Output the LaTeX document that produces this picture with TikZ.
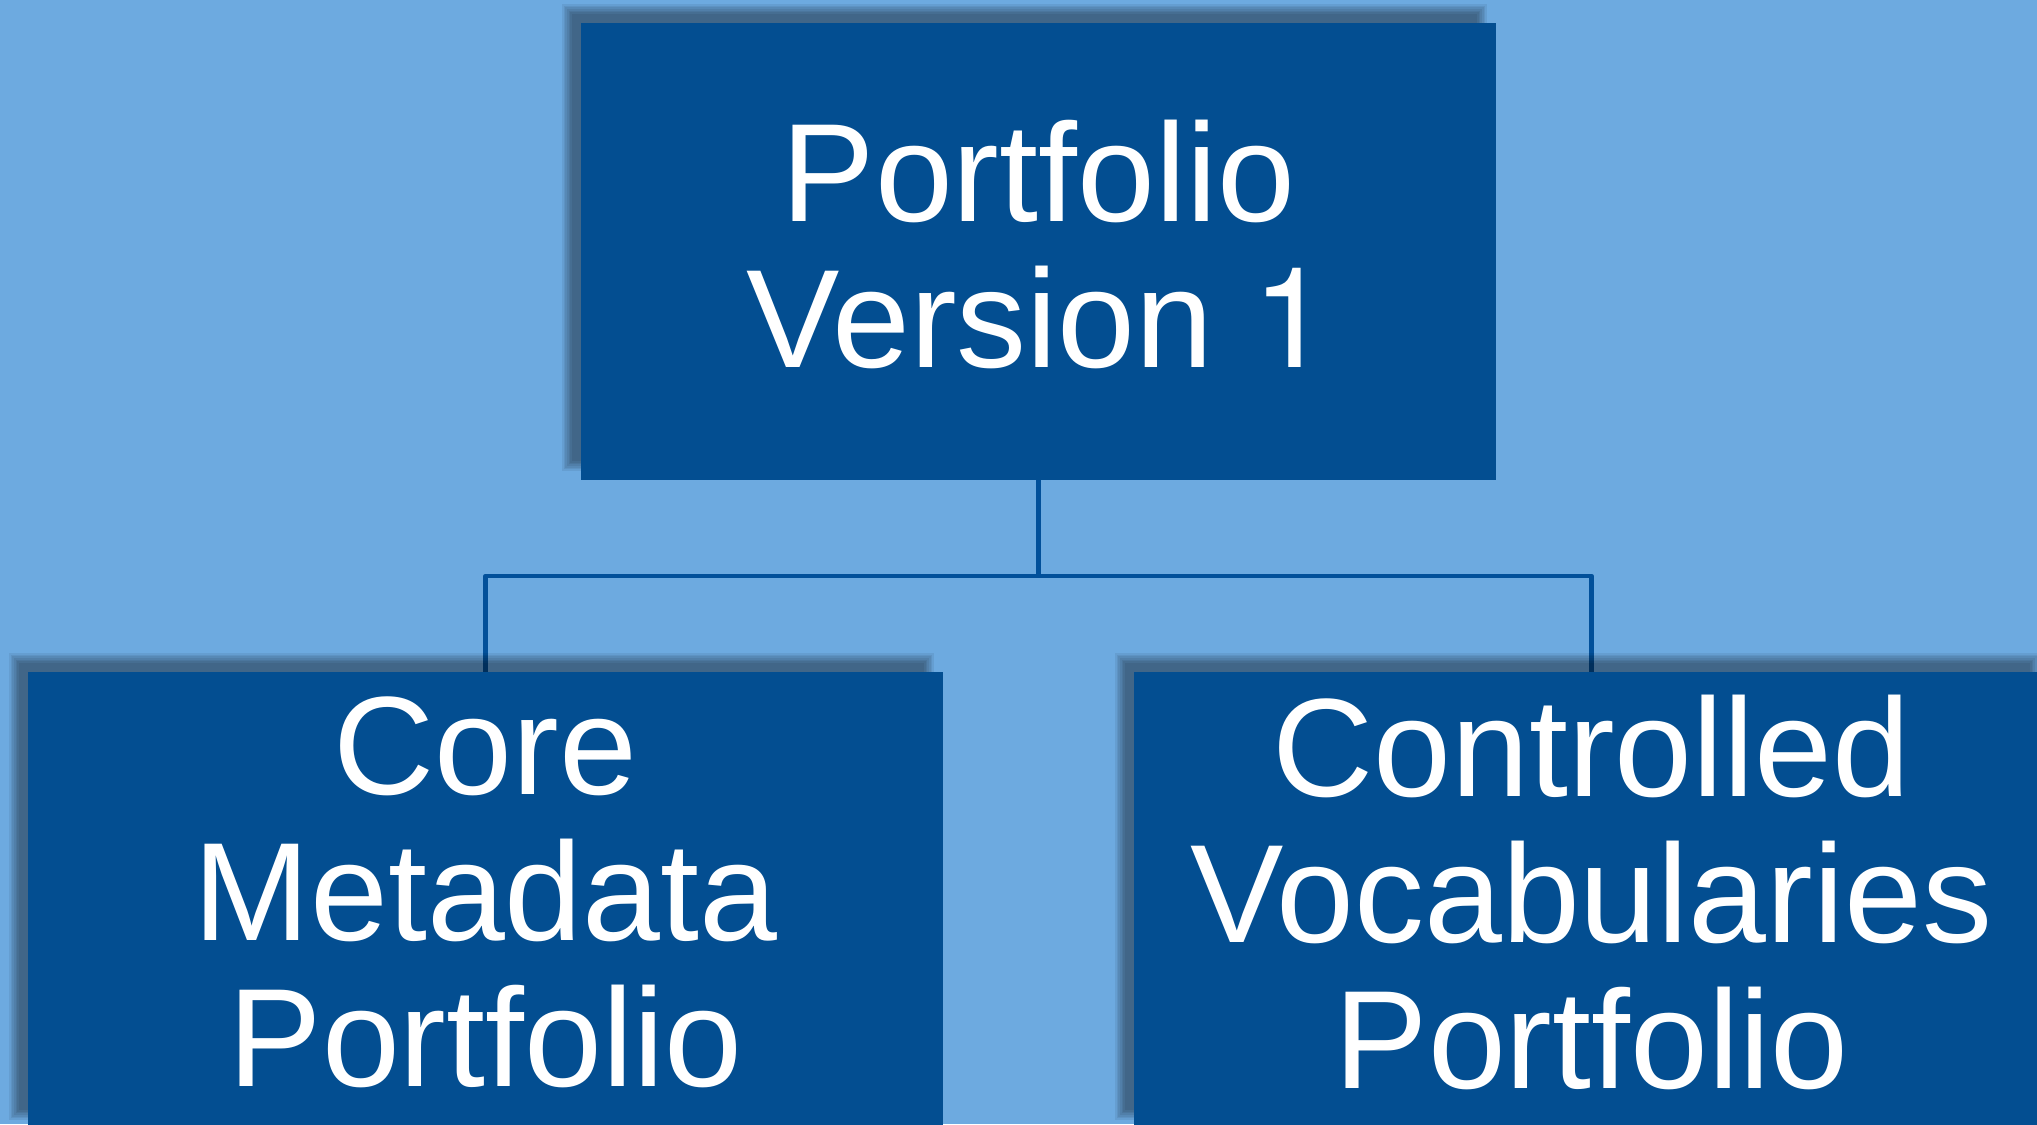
\documentclass[tikz,border=0pt]{standalone}
\usepackage{fontspec}
\setmainfont{Liberation Sans}
\newfontfamily\herosfont{TeX Gyre Heros}
\definecolor{bg}{HTML}{6DAAE0}
\definecolor{boxblue}{HTML}{034E91}
\definecolor{lineblue}{HTML}{02509A}
\pgfdeclarelayer{bgl}
\pgfdeclarelayer{connl}
\pgfdeclarelayer{shadowl}
\pgfsetlayers{bgl,connl,shadowl,main}
\begin{document}
\begin{tikzpicture}[x=0.5pt,y=-0.5pt,
  box/.style={fill=boxblue, minimum width=457.5pt, minimum height=228.5pt, inner sep=0pt, outer sep=0pt, anchor=north west},
  lbl/.style={text=white, font=\fontsize{70}{73}\selectfont, align=center, inner sep=0pt},
  conn/.style={draw=lineblue, line width=2.25pt, line join=round},
  shade/.style={fill=black, opacity=0.065}]
\useasboundingbox (0,0) rectangle (2037,1124);
\clip (0,0) rectangle (2037,1124);
\begin{pgfonlayer}{bgl}
\fill[bg] (0,0) rectangle (2037,1124);
\end{pgfonlayer}
% boxes
\node[box] (top) at (581,23) {};
\node[box] (left) at (28,672) {};
\node[box] (right) at (1134,672) {};
% labels
\node[lbl] (toptext) at (1038.5,244) {Portfolio\\Version {\herosfont 1}};
\node[lbl] (lefttext) at (485.5,892) {Core\\Metadata\\Portfolio};
\node[lbl] (righttext) at (1591.5,892) {Controlled\\Vocabularies\\Portfolio};
% shadows
\begin{pgfonlayer}{shadowl}
\foreach \b in {top,left,right}{
  \foreach \e in {5,3.3,1.7,0,-1.7,-3.3,-5}{
    \fill[shade] ([shift={(-14-\e,-14-\e)}]\b.north west) rectangle ([shift={(-14+\e,-14+\e)}]\b.south east);
  }
}
\end{pgfonlayer}
% connectors
\begin{pgfonlayer}{connl}
\coordinate (j) at (1038.5,576);
\draw[conn] (top.south) -- (j);
\draw[conn] (left.north) |- (j) -| (right.north);
\end{pgfonlayer}
\end{tikzpicture}
\end{document}
